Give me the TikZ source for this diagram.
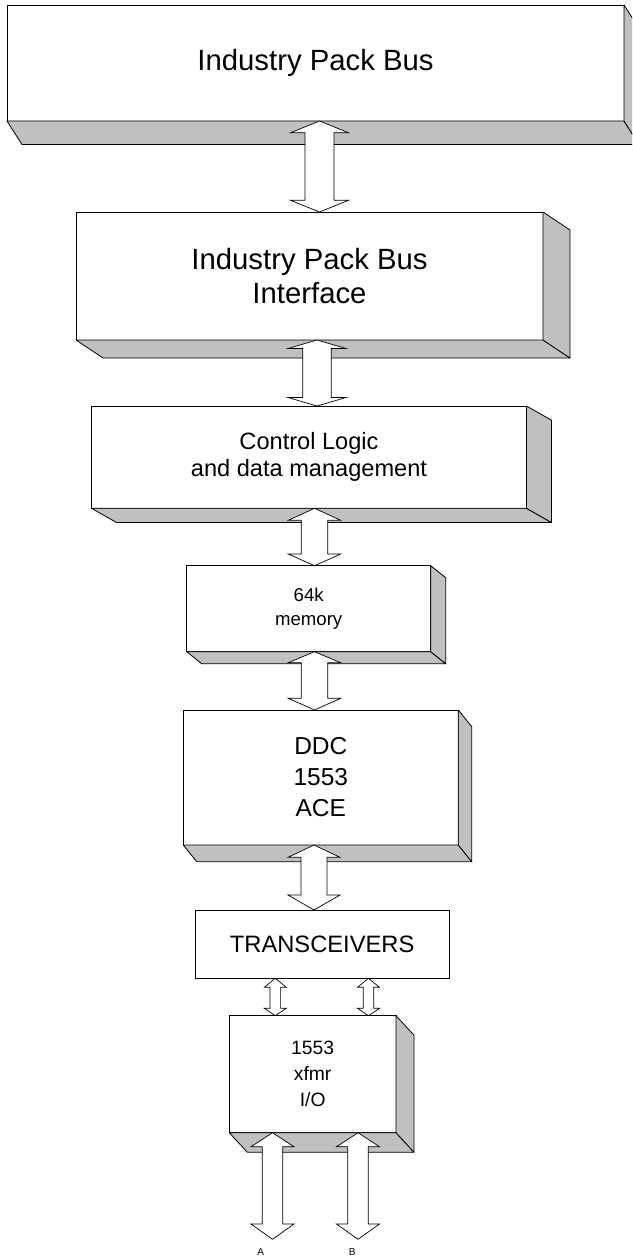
\documentclass[tikz,border=0pt]{standalone}
\usepackage{fontspec}
\setmainfont{Liberation Sans}
\usetikzlibrary{calc}
\definecolor{shade}{HTML}{C0C0C0}
\tikzset{
  front/.style={draw=black, line width=0.8pt, fill=white, inner sep=0pt, outer sep=0pt, anchor=north west, align=center},
  face/.style={draw=black, line width=0.8pt, fill=shade, line join=round},
  fat/.style={draw=black, line width=0.7pt, fill=white, line join=miter},
  lbl/.style={font=\fontsize{10}{12}\selectfont, inner sep=0pt}
}
\newcommand\threed[3]{%
  \draw[face] (#1.south west) -- (#1.south east) -- ++(#2,#3) -- ($(#1.south west)+(#2,#3)$) -- cycle;
  \draw[face] (#1.north east) -- ++(#2,#3) -- ($(#1.south east)+(#2,#3)$) -- (#1.south east) -- cycle;
}
\newcommand\fatarrow[6]{%
  \draw[fat] let \p1=(#1), \p2=(#2) in
    (\x1,\y1) -- (\x1+#4pt,\y1-#5pt) -- (\x1+#3pt,\y1-#5pt) -- (\x2+#3pt,\y2+#6pt) -- (\x2+#4pt,\y2+#6pt) -- (\x2,\y2)
    -- (\x2-#4pt,\y2+#6pt) -- (\x2-#3pt,\y2+#6pt) -- (\x1-#3pt,\y1-#5pt) -- (\x1-#4pt,\y1-#5pt) -- cycle;
}
\begin{document}
\begin{tikzpicture}[x=1pt,y=-1pt]
\useasboundingbox (0,0) rectangle (632,1257);
\clip (0,0) rectangle (632,1257);
\fill[white] (0,0) rectangle (632,1257);

% boxes
\node[front, minimum width=617pt, minimum height=116pt, font=\fontsize{29.3}{33.5}\selectfont] (b1) at (7,5) {\raisebox{-1.7pt}{Industry Pack Bus}};
\threed{b1}{15}{23.5}
\node[front, minimum width=467pt, minimum height=128pt, font=\fontsize{29.3}{34.5}\selectfont] (b2) at (76,212) {Industry Pack Bus\\Interface};
\threed{b2}{27}{18}
\node[front, minimum width=435pt, minimum height=102.3pt, font=\fontsize{23.6}{27}\selectfont] (b3) at (91.5,406) {Control Logic\\and data management};
\threed{b3}{25}{14.2}
\node[front, minimum width=244pt, minimum height=86pt, font=\fontsize{18.6}{24}\selectfont] (b4) at (186.7,565.7) {\raisebox{-1.5pt}{\begin{tabular}{@{}c@{}}64k\\memory\end{tabular}}};
\threed{b4}{15}{12}
\node[front, minimum width=275pt, minimum height=135pt, font=\fontsize{24.5}{31}\selectfont] (b5) at (183.3,710) {DDC\\1553\\ACE};
\threed{b5}{13.4}{16.7}
\node[front, minimum width=254.3pt, minimum height=68.3pt, font=\fontsize{23.7}{27}\selectfont] (b6) at (195,910) {TRANSCEIVERS};
\node[front, minimum width=166.7pt, minimum height=117pt, font=\fontsize{19.3}{26}\selectfont] (b7) at (229.3,1015.7) {1553\\xfmr\\I/O};
\threed{b7}{18}{19.5}

% connector end points
\coordinate (a1t) at (319.5,0 |- b1.south);
\coordinate (a1b) at (319.5,0 |- b2.north);
\coordinate (a2t) at (317,0 |- b2.south);
\coordinate (a2b) at (317,0 |- b3.north);
\coordinate (a3t) at (314.5,0 |- b3.south);
\coordinate (a3b) at (314.5,0 |- b4.north);
\coordinate (a4t) at (314.5,0 |- b4.south);
\coordinate (a4b) at (314.5,0 |- b5.north);
\coordinate (a5t) at (314,0 |- b5.south);
\coordinate (a5b) at (314,0 |- b6.north);
\coordinate (a6t) at (275.3,0 |- b6.south);
\coordinate (a6b) at (275.3,0 |- b7.north);
\coordinate (a7t) at (368.5,0 |- b6.south);
\coordinate (a7b) at (368.5,0 |- b7.north);
\coordinate (aAt) at (272.5,0 |- b7.south);
\coordinate (aAb) at (272.5,1239.3);
\coordinate (aBt) at (358,0 |- b7.south);
\coordinate (aBb) at (358,1239.3);

% connectors
\fatarrow{a1t}{a1b}{14.5}{29}{11.7}{11.7}
\fatarrow{a2t}{a2b}{14.2}{29}{8.5}{8.5}
\fatarrow{a3t}{a3b}{13.2}{26.2}{12}{11.7}
\fatarrow{a4t}{a4b}{13.2}{26.2}{11}{11.7}
\fatarrow{a5t}{a5b}{13}{26}{12.3}{15}
\fatarrow{a6t}{a6b}{5.3}{11}{9}{7.4}
\fatarrow{a7t}{a7b}{5.3}{11}{9}{7.4}
\fatarrow{aAt}{aAb}{10.2}{21.5}{14}{15.3}
\fatarrow{aBt}{aBb}{10.2}{21.5}{14}{15.3}

% labels
\node[lbl] (lA) at (260.7,1251.7) {A};
\node[lbl] (lB) at (352.3,1251.7) {B};
\end{tikzpicture}
\end{document}
